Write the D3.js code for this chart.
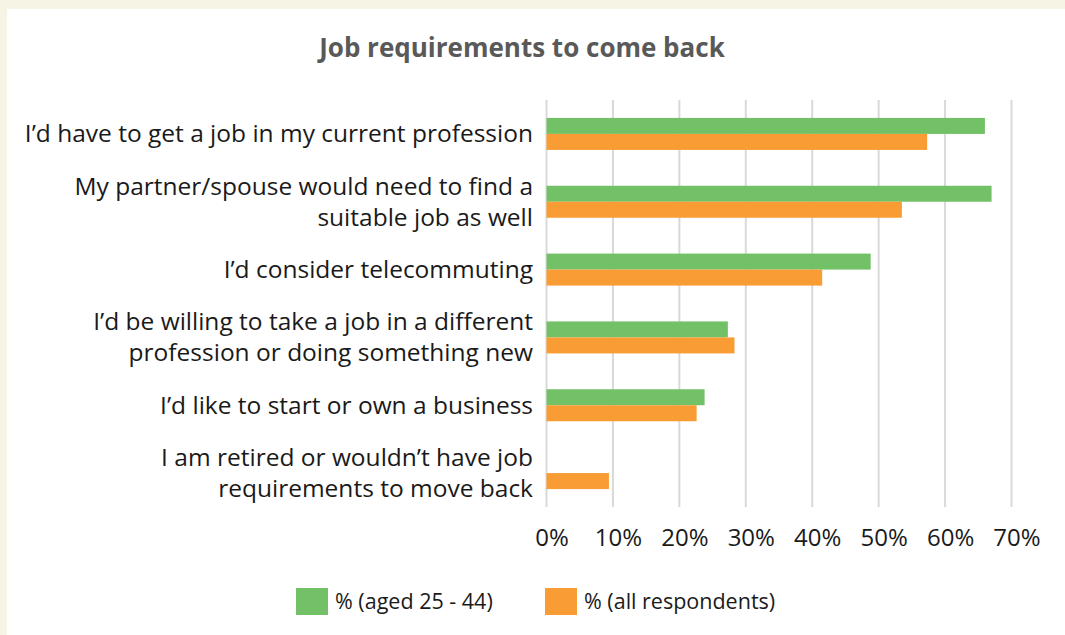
<!DOCTYPE html>
<html><head><meta charset="utf-8">
<script src="https://cdn.jsdelivr.net/npm/d3@7"></script>
<style>
html,body{margin:0;padding:0;background:#f6f4e5;}
svg{display:block;}
</style></head>
<body>
<svg id="chart" width="1065" height="635"></svg>
<script>
const categories = [
  "I\u2019d have to get a job in my current profession",
  "My partner/spouse would need to find a\nsuitable job as well",
  "I\u2019d consider telecommuting",
  "I\u2019d be willing to take a job in a different\nprofession or doing something new",
  "I\u2019d like to start or own a business",
  "I am retired or wouldn\u2019t have job\nrequirements to move back"
];
const seriesNames = ["% (aged 25 - 44)", "% (all respondents)"];
const aged2544 = [0.66, 0.67, 0.488, 0.273, 0.238, 0];
const allResp = [0.573, 0.535, 0.415, 0.283, 0.226, 0.094];
const tickValues = [0, 0.1, 0.2, 0.3, 0.4, 0.5, 0.6, 0.7];
const title = "Job requirements to come back";
const colors = ["#73c167", "#f89c33"];

const font = "'Open Sans', 'Noto Sans', sans-serif";
const svg = d3.select("#chart");
svg.append("rect").attr("x",0).attr("y",0).attr("width",1065).attr("height",635).attr("fill","#f6f4e5");
svg.append("rect").attr("x",7).attr("y",9).attr("width",1058).attr("height",626).attr("fill","#ffffff");

const x = d3.scaleLinear().domain([0, 0.7]).range([546.5, 1011.5]);
const y = d3.scaleBand().domain(categories).range([100, 507]).paddingInner(0).paddingOuter(0);
const inner = d3.scaleBand().domain([0,1]).range([0,32]);

svg.append("text").attr("x", 522).attr("y", 57).attr("text-anchor","middle")
  .attr("font-family", font).attr("font-weight","bold").attr("font-size", 26)
  .attr("fill","#595959").text(title);

// gridlines
const grid = svg.append("g");
grid.selectAll("line").data(tickValues).join("line")
  .attr("x1", d=>x(d)).attr("x2", d=>x(d)).attr("y1", 100).attr("y2", 507)
  .attr("stroke","#d9d9d9").attr("stroke-width",2);

// x axis labels
const xAxis = d3.axisBottom(x).tickValues(tickValues).tickFormat(d3.format(".0%")).tickSize(0).tickPadding(0);
const ax = svg.append("g").attr("transform","translate(0,546)").call(xAxis);
ax.select(".domain").remove();
ax.selectAll("text").attr("font-family", font).attr("font-size", 24).attr("fill","#1a1a1a").attr("dy","0").attr("dx", 5);

// bars
const series = [aged2544, allResp];
series.forEach((vals, si) => {
  svg.append("g").selectAll("rect").data(vals).join("rect")
    .attr("x", x(0))
    .attr("y", (d,i) => y(categories[i]) + y.bandwidth()/2 - 16 + inner(si))
    .attr("width", d => x(d) - x(0))
    .attr("height", inner.bandwidth())
    .attr("fill", colors[si]);
});

// category labels
const lab = svg.append("g");
categories.forEach(c => {
  const lines = c.split("\n");
  const cy = y(c) + y.bandwidth()/2;
  const t = lab.append("text").attr("text-anchor","end").attr("font-family", font)
    .attr("font-size", 24.5).attr("fill","#1a1a1a");
  lines.forEach((ln, k) => {
    t.append("tspan").attr("x", 533)
      .attr("y", cy + (k - (lines.length-1)/2) * 31)
      .attr("dy","0.35em").text(ln);
  });
});

// legend
const leg = svg.append("g");
const legX = [296, 545];
seriesNames.forEach((n, i) => {
  leg.append("rect").attr("x", legX[i]).attr("y", 588).attr("width", 32).attr("height", 27).attr("fill", colors[i]);
  leg.append("text").attr("x", legX[i] + 39).attr("y", 601).attr("dy","0.35em")
    .attr("font-family", font).attr("font-size", 21.5).attr("fill","#1a1a1a").text(n);
});
</script>
</body></html>
